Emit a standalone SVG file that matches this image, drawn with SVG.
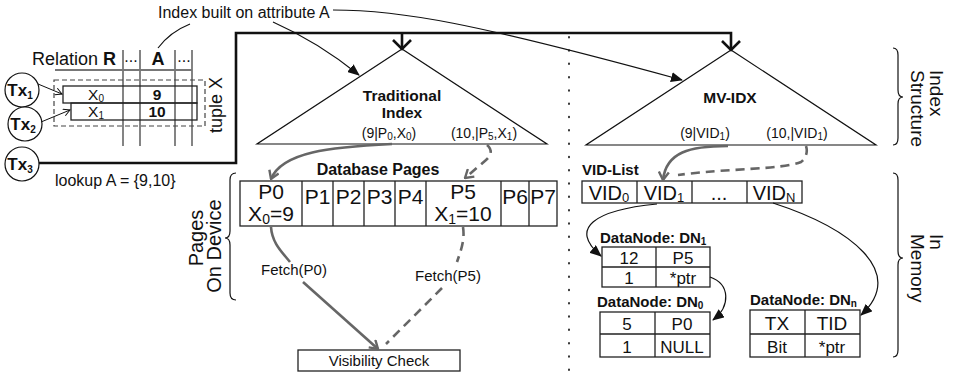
<svg xmlns="http://www.w3.org/2000/svg" width="956" height="375" viewBox="0 0 956 375">
  <style>
    text { font-family: "Liberation Sans", Arial, sans-serif; fill: #111; }
    .b { font-weight: bold; }
    .mid { text-anchor: middle; }
    .ln { fill: none; stroke: #111; stroke-width: 1.2; }
    .thick { fill: none; stroke: #111; stroke-width: 2.6; }
    .grey { fill: none; stroke: #666; stroke-width: 2.6; }
    .greyd { fill: none; stroke: #666; stroke-width: 2.6; stroke-dasharray: 9 6; }
    .col { fill: none; stroke: #777; stroke-width: 1.8; }
    .box { fill: #fff; stroke: #222; stroke-width: 1.3; }
    .cell { fill: none; stroke: #222; stroke-width: 1.3; }
  </style>
  <defs>
    <marker id="fill" viewBox="0 0 12 10" refX="11" refY="5" markerWidth="12" markerHeight="10" markerUnits="userSpaceOnUse" orient="auto">
      <path d="M0,0 L12,5 L0,10 Z" fill="#111"/>
    </marker>
    <marker id="vee" viewBox="0 0 10 12" refX="9" refY="6" markerWidth="10" markerHeight="12" markerUnits="userSpaceOnUse" orient="auto">
      <path d="M1,1 L9,6 L1,11" fill="none" stroke="#666" stroke-width="2.4"/>
    </marker>
    <marker id="veeS" viewBox="0 0 8 8" refX="7" refY="4" markerWidth="8" markerHeight="8" markerUnits="userSpaceOnUse" orient="auto">
      <path d="M0.5,0.5 L7,4 L0.5,7.5" fill="none" stroke="#111" stroke-width="1"/>
    </marker>
  </defs>

  <!-- annotation -->
  <g id="annotation">
    <text x="158" y="18" font-size="16">Index built on attribute A</text>
  </g>

  <!-- relation R with tuple versions -->
  <g id="relation">
    <text x="32" y="65" font-size="18">Relation <tspan class="b">R</tspan></text>
    <text x="131" y="62" font-size="16" class="mid">...</text>
    <text x="158" y="65" font-size="18" class="mid b">A</text>
    <text x="184" y="62" font-size="16" class="mid">...</text>
    <line class="col" x1="55" y1="70" x2="192" y2="70"/>
    <line class="col" x1="123" y1="50" x2="123" y2="146"/>
    <line class="col" x1="140" y1="50" x2="140" y2="146"/>
    <line class="col" x1="175" y1="50" x2="175" y2="146"/>
    <line class="col" x1="192" y1="50" x2="192" y2="146"/>
    <rect x="54" y="80" width="151" height="46" fill="none" stroke="#444" stroke-width="1.2" stroke-dasharray="5 3"/>
    <rect x="63" y="86" width="134" height="17" class="cell"/>
    <rect x="71" y="103" width="126" height="17" class="cell"/>
    <text x="96" y="100" font-size="15.5" class="mid">X<tspan font-size="10" dy="2">0</tspan></text>
    <text x="157" y="100" font-size="15.5" class="mid b">9</text>
    <text x="96" y="117" font-size="15.5" class="mid">X<tspan font-size="10" dy="2">1</tspan></text>
    <text x="157" y="117" font-size="15.5" class="mid b">10</text>
    <text transform="translate(222,105) rotate(-90)" font-size="18" class="mid">tuple X</text>
  </g>

  <!-- transactions -->
  <g id="tx1">
    <circle cx="22" cy="90" r="17" fill="#fff" stroke="#111" stroke-width="1.2"/>
    <text x="20" y="96" font-size="17" class="mid b">Tx<tspan font-size="10" dy="3">1</tspan></text>
  </g>
  <g id="tx2">
    <circle cx="25" cy="124" r="17" fill="#fff" stroke="#111" stroke-width="1.2"/>
    <text x="23" y="130" font-size="17" class="mid b">Tx<tspan font-size="10" dy="3">2</tspan></text>
  </g>
  <g id="tx3">
    <circle cx="22" cy="164" r="17" fill="#fff" stroke="#111" stroke-width="1.2"/>
    <text x="20" y="170" font-size="17" class="mid b">Tx<tspan font-size="10" dy="3">3</tspan></text>
  </g>
  <text x="55" y="186" font-size="16">lookup A = {9,10}</text>

  <!-- traditional index -->
  <g id="traditional-index">
    <polygon points="402,49 257,144 547,144" class="ln"/>
    <text x="402" y="101" font-size="15.5" class="mid b">Traditional</text>
    <text x="402" y="118" font-size="15.5" class="mid b">Index</text>
    <text x="389" y="138" font-size="14" class="mid">(9|P<tspan font-size="10" dy="2">0</tspan><tspan dy="-2">,X</tspan><tspan font-size="10" dy="2">0</tspan><tspan dy="-2">)</tspan></text>
    <text x="484" y="138" font-size="14" class="mid">(10,|P<tspan font-size="10" dy="2">5</tspan><tspan dy="-2">,X</tspan><tspan font-size="10" dy="2">1</tspan><tspan dy="-2">)</tspan></text>
  </g>

  <!-- MV-IDX -->
  <g id="mv-idx">
    <polygon points="731,50 586,145 876,145" class="ln"/>
    <text x="730" y="103" font-size="15.5" class="mid b">MV-IDX</text>
    <text x="705" y="138" font-size="14" class="mid">(9|VID<tspan font-size="10" dy="2">1</tspan><tspan dy="-2">)</tspan></text>
    <text x="797" y="138" font-size="14" class="mid">(10,|VID<tspan font-size="10" dy="2">1</tspan><tspan dy="-2">)</tspan></text>
  </g>

  <!-- database pages -->
  <g id="database-pages">
    <text x="378" y="175" font-size="16" class="mid b">Database Pages</text>
    <rect x="240" y="181" width="317" height="45" class="box"/>
    <path class="cell" d="M302,181 V226 M333,181 V226 M364,181 V226 M395,181 V226 M426,181 V226 M501,181 V226 M529,181 V226"/>
    <text x="271" y="199" font-size="21" class="mid">P0</text>
    <text x="271" y="221" font-size="21" class="mid">X<tspan font-size="14" dy="3">0</tspan><tspan dy="-3">=9</tspan></text>
    <text x="317.5" y="204" font-size="21" class="mid">P1</text>
    <text x="348.5" y="204" font-size="21" class="mid">P2</text>
    <text x="379.5" y="204" font-size="21" class="mid">P3</text>
    <text x="410.5" y="204" font-size="21" class="mid">P4</text>
    <text x="463" y="199" font-size="21" class="mid">P5</text>
    <text x="463" y="221" font-size="21" class="mid">X<tspan font-size="14" dy="3">1</tspan><tspan dy="-3">=10</tspan></text>
    <text x="515" y="204" font-size="21" class="mid">P6</text>
    <text x="543" y="204" font-size="21" class="mid">P7</text>
  </g>

  <g id="visibility-check">
    <rect x="298" y="350" width="162" height="21" class="box"/>
    <text x="379" y="366" font-size="15" class="mid">Visibility Check</text>
  </g>

  <!-- VID list -->
  <g id="vid-list">
    <text x="582" y="175" font-size="15" class="b">VID-List</text>
    <rect x="582" y="181" width="220" height="22" class="box"/>
    <path class="cell" d="M637,181 V203 M692,181 V203 M747,181 V203"/>
    <text x="609" y="200" font-size="20" class="mid">VID<tspan font-size="13" dy="2">0</tspan></text>
    <text x="664" y="200" font-size="20" class="mid">VID<tspan font-size="13" dy="2">1</tspan></text>
    <text x="719" y="200" font-size="20" class="mid">...</text>
    <text x="774" y="200" font-size="20" class="mid">VID<tspan font-size="13" dy="2">N</tspan></text>
  </g>

  <!-- data nodes -->
  <g id="datanode-dn1">
    <text x="600" y="243" font-size="15" class="b">DataNode: DN<tspan font-size="10" dy="2">1</tspan></text>
    <rect x="602" y="247" width="108" height="40" class="box"/>
    <path class="cell" d="M602,267 H710 M656,247 V287"/>
    <text x="629" y="264" font-size="17" class="mid">12</text>
    <text x="683" y="264" font-size="17" class="mid">P5</text>
    <text x="629" y="284" font-size="17" class="mid">1</text>
    <text x="683" y="284" font-size="17" class="mid">*ptr</text>
  </g>
  <g id="datanode-dn0">
    <text x="597" y="307" font-size="15" class="b">DataNode: DN<tspan font-size="10" dy="2">0</tspan></text>
    <rect x="600" y="312" width="110" height="45" class="box"/>
    <path class="cell" d="M600,334 H710 M655,312 V357"/>
    <text x="627" y="330" font-size="17" class="mid">5</text>
    <text x="682" y="330" font-size="17" class="mid">P0</text>
    <text x="627" y="353" font-size="17" class="mid">1</text>
    <text x="682" y="353" font-size="17" class="mid">NULL</text>
  </g>
  <g id="datanode-dnn">
    <text x="750" y="305" font-size="15" class="b">DataNode: DN<tspan font-size="10" dy="2">n</tspan></text>
    <rect x="750" y="310" width="110" height="47" class="box"/>
    <path class="cell" d="M750,334 H860 M805,310 V357"/>
    <text x="777" y="330" font-size="19" class="mid">TX</text>
    <text x="832" y="330" font-size="19" class="mid">TID</text>
    <text x="777" y="353" font-size="17" class="mid">Bit</text>
    <text x="832" y="353" font-size="17" class="mid">*ptr</text>
  </g>

  <!-- side labels and braces -->
  <g id="pages-on-device">
    <path class="ln" stroke-width="1" d="M236,173 Q230,173 230,180 V231 Q230,238 225,238 Q230,238 230,245 V293 Q230,300 236,300"/>
    <text transform="translate(203,238) rotate(-90)" font-size="20" class="mid">Pages</text>
    <text transform="translate(221,246) rotate(-90)" font-size="20" class="mid">On Device</text>
  </g>
  <g id="index-structure">
    <path class="ln" stroke-width="1" d="M893,48 Q898,48 898,55 V90 Q898,97 903,97 Q898,97 898,104 V138 Q898,145 893,145"/>
    <text transform="translate(930,70) rotate(90)" font-size="19">Index</text>
    <text transform="translate(911,70) rotate(90)" font-size="19">Structure</text>
  </g>
  <g id="in-memory">
    <path class="ln" stroke-width="1" d="M893,173 Q898,173 898,180 V251 Q898,258 903,258 Q898,258 898,265 V350 Q898,357 893,357"/>
    <text transform="translate(930,234) rotate(90)" font-size="19">In</text>
    <text transform="translate(911,234) rotate(90)" font-size="19">Memory</text>
  </g>

  <!-- connectors -->
  <g id="connectors">
    <line x1="569" y1="37" x2="569" y2="372" stroke="#333" stroke-width="2" stroke-linecap="round" stroke-dasharray="0.5 12.8"/>
    <path class="ln" stroke-width="1" d="M190,24 Q170,32 158,48"/>
    <path class="ln" stroke-width="1" d="M273,22 Q318,42 359,75" marker-end="url(#fill)"/>
    <path class="ln" stroke-width="1" d="M333,10 C400,10 470,22 682,80" marker-end="url(#fill)"/>
    <line x1="38" y1="84" x2="62" y2="94" stroke="#111" stroke-width="1" marker-end="url(#veeS)"/>
    <line x1="41" y1="122" x2="70" y2="110" stroke="#111" stroke-width="1" marker-end="url(#veeS)"/>
    <path class="thick" d="M39,163 H236 V33 H731 V49 M402,33 V49"/>
    <path class="thick" stroke-width="2" d="M393,40 L402,49 L411,40 M722,41 L731,50 L740,41"/>
    <path class="grey" d="M392,144 C330,147 282,152 271,179" marker-end="url(#vee)"/>
    <path class="greyd" d="M487,145 C493,150 491,156 486,160 L465,178" marker-end="url(#vee)"/>
    <path class="grey" d="M728,146 C690,146 666,152 663,180" marker-end="url(#vee)"/>
    <path class="greyd" d="M806,146 C808,152 806,158 801,162 C780,170 730,168 678,175"/>
    <path class="grey" d="M271,227 C272,243 282,252 290,262"/>
    <path class="grey" d="M303,282 L378,349" marker-end="url(#vee)"/>
    <path class="greyd" d="M463,227 C465,240 461,250 457,262"/>
    <path class="greyd" d="M442,288 L386,344"/>
    <text x="294" y="275" font-size="15" class="mid">Fetch(P0)</text>
    <text x="448" y="281" font-size="15" class="mid">Fetch(P5)</text>
    <path class="ln" stroke-width="1" d="M657,204 C595,210 568,228 601,256" marker-end="url(#fill)"/>
    <path class="ln" stroke-width="1" d="M710,277 C730,284 731,306 713,320" marker-end="url(#fill)"/>
    <path class="ln" stroke-width="1" d="M773,203 C850,228 908,272 861,315" marker-end="url(#fill)"/>
  </g>
</svg>
